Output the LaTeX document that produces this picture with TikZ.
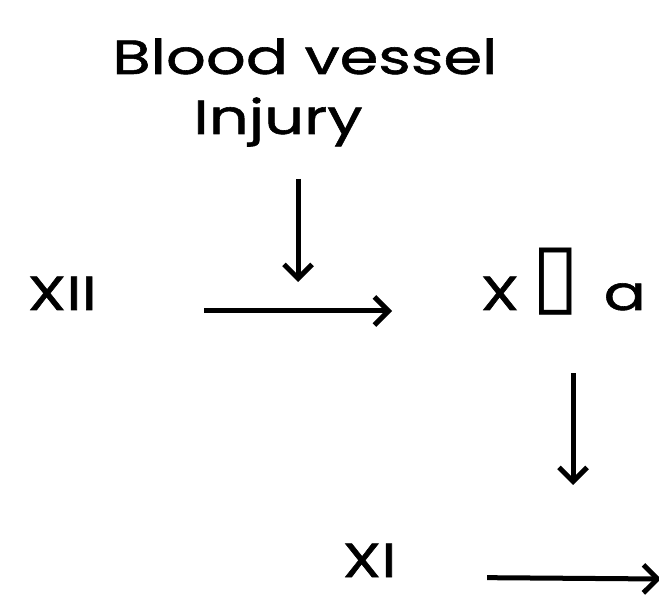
\documentclass[tikz,border=0pt]{standalone}
\usepackage{fontspec}
\setmainfont{Poppins}[FakeStretch=1.3, FakeBold=1.2]
\newfontfamily\shapefont{DejaVu Sans}
\usetikzlibrary{arrows.meta,positioning}

\begin{document}
\begin{tikzpicture}[x=1pt, y=-1pt, >={Straight Barb[length=14pt,width=28pt]}, line width=5pt,
  every node/.style={inner sep=0pt, font=\fontsize{48}{54}\selectfont}]
\useasboundingbox (0,0) rectangle (659,601);
\node[anchor=base] (blood) at (305,74) {Blood vessel};
\node[anchor=base] (injury) at (278,134) {Injury};
\node[anchor=base west] (xii) at (25,310) {XII};
\node[anchor=base west] (xiia) at (478,310) {X\kern12pt\raisebox{5pt}{\shapefont\fontsize{88}{88}\selectfont ▯}\kern24pt a};
\node[anchor=base west] (xi) at (340,577) {XI};
\coordinate (hit) at (298,282);
\coordinate (act) at (573,485);
\coordinate (out) at (661,579);
\draw[->, shorten <=30pt] (injury.south -| hit) -- (hit);
\draw[->, shorten <=105pt, shorten >=86pt] ([yshift=-1pt]xii.base east) -- ([yshift=-1pt]xiia.base west);
\draw[->, shorten <=55pt] (xiia.south -| act) -- (act);
\draw[->, shorten <=88pt] (xi.base east) -- (out);
\end{tikzpicture}
\end{document}
